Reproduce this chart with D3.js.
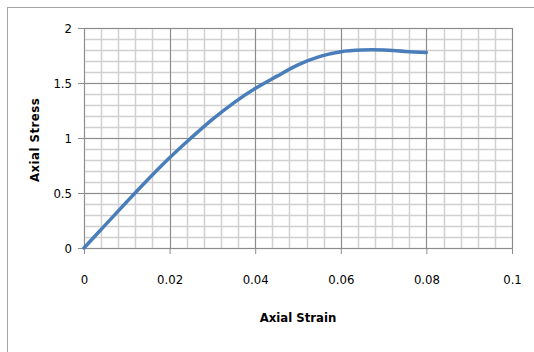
<!DOCTYPE html>
<html>
<head>
<meta charset="utf-8">
<script src="https://cdn.jsdelivr.net/npm/d3@7"></script>
<style>
  body { margin: 0; background: #fff; }
  svg { display: block; }
  text { font-family: "Liberation Sans Narrow", "DejaVu Sans Condensed", "Liberation Sans", sans-serif; }
</style>
</head>
<body>
<div id="chart"></div>
<script>
// Data
const strain = [0, 0.005, 0.01, 0.015, 0.02, 0.025, 0.03, 0.035, 0.04, 0.045, 0.05, 0.055, 0.06, 0.065, 0.07, 0.075, 0.08];
const stress = [0, 0.21, 0.42, 0.625, 0.82, 1.0, 1.17, 1.32, 1.45, 1.56, 1.665, 1.74, 1.785, 1.80, 1.80, 1.787, 1.777];
const xTicks = [0, 0.02, 0.04, 0.06, 0.08, 0.1];
const yTicks = [0, 0.5, 1, 1.5, 2];
const xTitle = 'Axial Strain';
const yTitle = 'Axial Stress';

const W = 534, H = 352;
const margin = { top: 28, right: 22, bottom: 104, left: 84 };
const width = W - margin.left - margin.right;
const height = H - margin.top - margin.bottom;

const svg = d3.select('#chart')
    .append('svg')
    .attr('width', W)
    .attr('height', H);

// outer chart border (runs off right/bottom edge)
svg.append('rect')
    .attr('x', 7.5).attr('y', 7.5)
    .attr('width', W).attr('height', H)
    .attr('fill', 'none')
    .attr('stroke', '#a6a6a6')
    .attr('stroke-width', 1);

const g = svg.append('g')
    .attr('transform', `translate(${margin.left},${margin.top})`);

const x = d3.scaleLinear().domain([0, 0.1]).range([0, width]);
const y = d3.scaleLinear().domain([0, 2]).range([height, 0]);

// minor gridlines: 5 per major interval
const xMinor = d3.range(0, 26).map(i => i * 0.004);
const yMinor = d3.range(0, 21).map(i => i * 0.1);

g.append('g')
    .selectAll('line')
    .data(xMinor)
    .enter()
    .append('line')
    .attr('x1', d => Math.round(x(d)) + 0.5)
    .attr('x2', d => Math.round(x(d)) + 0.5)
    .attr('y1', 0)
    .attr('y2', height)
    .attr('stroke', '#d0d0d0')
    .attr('stroke-width', 1.5);

g.append('g')
    .selectAll('line')
    .data(yMinor)
    .enter()
    .append('line')
    .attr('x1', 0)
    .attr('x2', width)
    .attr('y1', d => Math.round(y(d)) + 0.5)
    .attr('y2', d => Math.round(y(d)) + 0.5)
    .attr('stroke', '#d0d0d0')
    .attr('stroke-width', 1.5);

// major gridlines
g.append('g')
    .selectAll('line')
    .data(xTicks)
    .enter()
    .append('line')
    .attr('x1', d => Math.round(x(d)) + 0.5)
    .attr('x2', d => Math.round(x(d)) + 0.5)
    .attr('y1', 0)
    .attr('y2', height)
    .attr('stroke', '#8c8c8c')
    .attr('stroke-width', 1);

g.append('g')
    .selectAll('line')
    .data(yTicks)
    .enter()
    .append('line')
    .attr('x1', 0)
    .attr('x2', width)
    .attr('y1', d => Math.round(y(d)) + 0.5)
    .attr('y2', d => Math.round(y(d)) + 0.5)
    .attr('stroke', '#8c8c8c')
    .attr('stroke-width', 1);

// X axis
const xAxis = g.append('g')
    .attr('transform', `translate(0,${height})`)
    .call(d3.axisBottom(x).tickValues(xTicks).tickSize(6).tickSizeOuter(0).tickFormat(d3.format('')));
xAxis.select('.domain').attr('stroke', '#8c8c8c');
xAxis.selectAll('.tick line').attr('stroke', '#8c8c8c');
xAxis.selectAll('text')
    .attr('dy', 0)
    .attr('y', 36)
    .style('font-size', '13px')
    .attr('fill', '#000');

// Y axis
const yAxis = g.append('g')
    .call(d3.axisLeft(y).tickValues(yTicks).tickSize(6).tickSizeOuter(0).tickFormat(d3.format('')));
yAxis.select('.domain').attr('stroke', '#8c8c8c');
yAxis.selectAll('.tick line').attr('stroke', '#8c8c8c');
yAxis.selectAll('text')
    .attr('x', -12)
    .style('font-size', '13px')
    .attr('fill', '#000');

// curve
const pts = strain.map((s, i) => [s, stress[i]]);
g.append('path')
    .datum(pts)
    .attr('fill', 'none')
    .attr('stroke', '#4a7ebb')
    .attr('stroke-width', 3.5)
    .attr('stroke-linecap', 'round')
    .attr('d', d3.line()
        .x(d => x(d[0]))
        .y(d => y(d[1]))
        .curve(d3.curveCatmullRom));

// axis titles
svg.append('text')
    .attr('x', 298)
    .attr('y', 322)
    .attr('text-anchor', 'middle')
    .style('font-size', '13px')
    .style('font-weight', 'bold')
    .text(xTitle);

svg.append('text')
    .attr('transform', 'translate(39,140) rotate(-90)')
    .attr('text-anchor', 'middle')
    .style('font-size', '13px')
    .style('font-weight', 'bold')
    .style('letter-spacing', '0.5px')
    .text(yTitle);
</script>
</body>
</html>
